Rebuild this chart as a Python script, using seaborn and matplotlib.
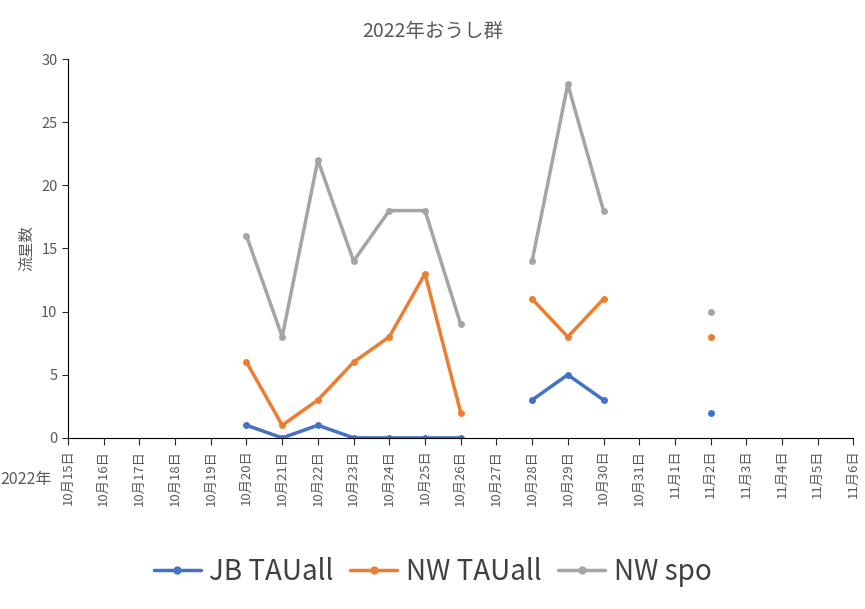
import numpy as np
import pandas as pd
import matplotlib
matplotlib.use('Agg')
import matplotlib.pyplot as plt
import seaborn as sns

sns.set_style('white')
plt.rcParams['font.family'] = ['Noto Sans CJK JP', 'DejaVu Sans']

DATES = ['10月15日', '10月16日', '10月17日', '10月18日', '10月19日', '10月20日', '10月21日',
         '10月22日', '10月23日', '10月24日', '10月25日', '10月26日', '10月27日', '10月28日',
         '10月29日', '10月30日', '10月31日', '11月1日', '11月2日', '11月3日', '11月4日',
         '11月5日', '11月6日']
nan = np.nan
JB_TAU = [nan, nan, nan, nan, nan, 1, 0, 1, 0, 0, 0, 0, nan, 3, 5, 3, nan, nan, 2, nan, nan, nan, nan]
NW_TAU = [nan, nan, nan, nan, nan, 6, 1, 3, 6, 8, 13, 2, nan, 11, 8, 11, nan, nan, 8, nan, nan, nan, nan]
NW_SPO = [nan, nan, nan, nan, nan, 16, 8, 22, 14, 18, 18, 9, nan, 14, 28, 18, nan, nan, 10, nan, nan, nan, nan]

SERIES = [('JB TAUall', JB_TAU, '#4472c4'),
          ('NW TAUall', NW_TAU, '#ed7d31'),
          ('NW spo', NW_SPO, '#a5a5a5')]


def to_frame(vals):
    # split into contiguous segments so gaps stay broken
    rows, seg, prev = [], 0, False
    for i, v in enumerate(vals):
        if np.isnan(v):
            if prev:
                seg += 1
            prev = False
            continue
        rows.append((i, v, seg))
        prev = True
    return pd.DataFrame(rows, columns=['pos', 'val', 'seg'])


fig = plt.figure(figsize=(8.65, 6.09), dpi=100)
ax = fig.add_axes([0.0786, 0.281, 0.908, 0.622])

for name, vals, color in SERIES:
    df = to_frame(vals)
    sns.lineplot(data=df, x='pos', y='val', units='seg', estimator=None, color=color,
                 marker='o', markersize=5, markeredgewidth=0, linewidth=2.5, ax=ax,
                 legend=False)
    ax.plot([], [], color=color, marker='o', markersize=5, linewidth=2.5, label=name)

ax.set_xlim(0, len(DATES) - 1)
ax.set_ylim(0, 30)
ax.set_xticks(range(len(DATES)))
ax.set_xticklabels(DATES, rotation=90, fontsize=9.5, color='#595959')
ax.set_yticks(range(0, 31, 5))
ax.tick_params(axis='y', labelsize=10.5, labelcolor='#595959', length=4, direction='out', left=True)
ax.tick_params(axis='x', length=5, direction='out', bottom=True)
ax.set_xlabel('')
ax.set_ylabel('流星数', fontsize=11, color='#595959')
for s in ['top', 'right']:
    ax.spines[s].set_visible(False)
ax.spines['left'].set_color('black')
ax.spines['bottom'].set_color('black')

fig.text(0.0, 0.212, '2022年', fontsize=11.5, color='#595959', va='center')
fig.suptitle('2022年おうし群', y=0.965, fontsize=14, color='#595959')
handles, labels = ax.get_legend_handles_labels()
fig.legend(handles, labels, loc='lower center', bbox_to_anchor=(0.5, -0.005), ncol=3,
           fontsize=20, frameon=False, handlelength=1.7, columnspacing=0.6,
           handletextpad=0.3, labelcolor='#404040')

fig.savefig('out.png', dpi=100)
